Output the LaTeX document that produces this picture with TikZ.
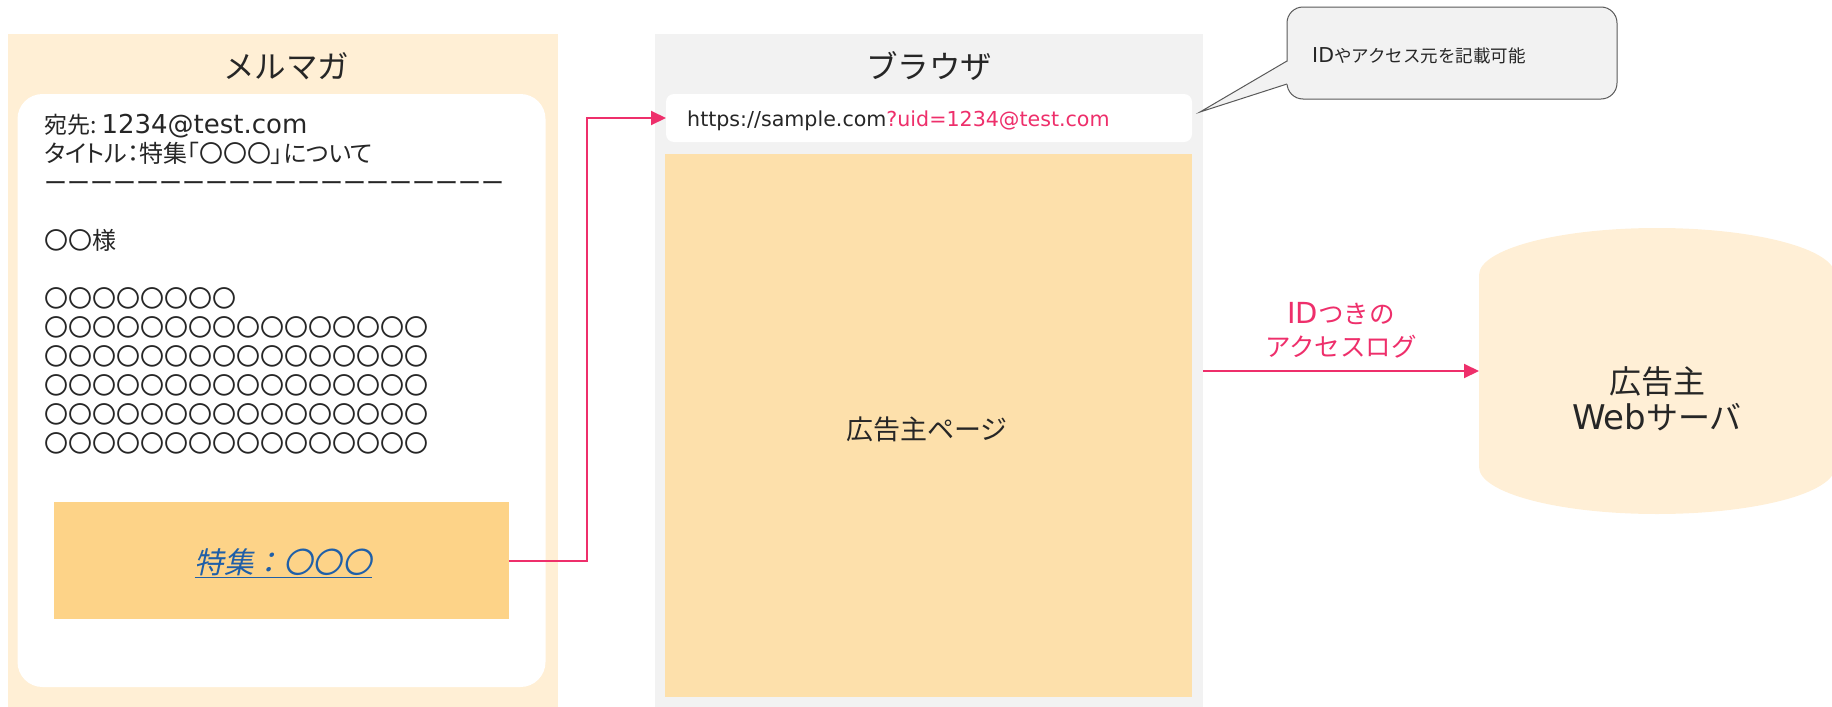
\documentclass[tikz,border=0pt]{standalone}
\usepackage{fontspec}
\setmainfont{Noto Sans CJK JP}
\newfontfamily\jpit[FakeSlant=0.22]{Noto Sans CJK JP}
\newfontfamily\jpprop[RawFeature={+palt}]{Noto Sans CJK JP}
\newfontfamily\lat{DejaVu Sans}
\newcommand{\latin}[2]{{\lat\fontsize{#1}{#1}\selectfont #2}}
\usetikzlibrary{arrows.meta}
\definecolor{mailbg}{HTML}{FFEFD5}
\definecolor{linkbg}{HTML}{FDD388}
\definecolor{browserbg}{HTML}{F2F2F2}
\definecolor{pagebg}{HTML}{FDE0AB}
\definecolor{cylbg}{HTML}{FFEFD6}
\definecolor{accent}{HTML}{EE2F6B}
\definecolor{ink}{HTML}{262626}
\definecolor{linkblue}{HTML}{1F5FA8}
\definecolor{callborder}{HTML}{595959}
\tikzset{
  panel/.style={inner sep=0pt, outer sep=0pt, draw=none},
  bodyline/.style={anchor=base west, inner sep=0pt, text=ink, font=\fontsize{23}{29}\selectfont},
  circleline/.style={anchor=base west, inner sep=0pt, text=ink, font=\fontsize{24}{29}\selectfont},
  titletext/.style={inner sep=0pt, text=ink, font=\fontsize{31.5}{36}\selectfont},
  flow/.style={draw=accent, line width=2pt, -{Triangle[length=15pt,width=14pt]}},
}
\begin{document}
\begin{tikzpicture}[x=1pt,y=-1pt]
\useasboundingbox (0,0) rectangle (1832,707);

% ---- mail panel ----
\node[panel, fill=mailbg, minimum width=550pt, minimum height=673pt] (mail) at (283,370.5) {};
\node[titletext] (mailtitle) at (286,66) {メルマガ};
\node[panel, fill=white, rounded corners=25pt, minimum width=528pt, minimum height=593pt] (mailbody) at (281.5,390.5) {};
\node[bodyline] (l1) at (44,133) {宛先:\hspace{5pt}\latin{26}{1234@test.com}};
\node[bodyline, font=\jpprop\fontsize{24}{29}\selectfont] (l2) at (44,162) {タイトル：特集「〇〇〇」について};
\node[bodyline] (l3) at (44,191) {ーーーーーーーーーーーーーーーーーーーー};
\node[circleline] (l4) at (44,249) {〇〇様};
\node[circleline] (l5) at (44,307) {〇〇〇〇〇〇〇〇};
\node[circleline] (l6) at (44,336) {〇〇〇〇〇〇〇〇〇〇〇〇〇〇〇〇};
\node[circleline] (l7) at (44,365) {〇〇〇〇〇〇〇〇〇〇〇〇〇〇〇〇};
\node[circleline] (l8) at (44,394) {〇〇〇〇〇〇〇〇〇〇〇〇〇〇〇〇};
\node[circleline] (l9) at (44,423) {〇〇〇〇〇〇〇〇〇〇〇〇〇〇〇〇};
\node[circleline] (l10) at (44,452) {〇〇〇〇〇〇〇〇〇〇〇〇〇〇〇〇};
\node[panel, fill=linkbg, minimum width=455pt, minimum height=117pt] (link) at (281.5,560.5) {};
\node[inner sep=0pt, text=linkblue, font=\jpit\fontsize{29.5}{29.5}\selectfont] (linktext) at (283,563) {\underline{特集：〇〇〇}};

% ---- browser panel ----
\node[panel, fill=browserbg, minimum width=548pt, minimum height=673pt] (browser) at (929,370.5) {};
\node[titletext] (browsertitle) at (929,66) {ブラウザ};
\node[panel, fill=white, rounded corners=8pt, minimum width=526pt, minimum height=48pt] (url) at (929,118) {};
\node[anchor=base west, inner sep=0pt, text=ink, font=\lat\fontsize{20.6}{24}\selectfont] (urltext) at (687,126) {https://sample.com\textcolor{accent}{?uid=1234@test.com}};
\node[panel, fill=pagebg, minimum width=527pt, minimum height=543pt] (page) at (928.5,425.5) {};
\node[inner sep=0pt, text=ink, font=\fontsize{27}{30}\selectfont] (pagetext) at (927,429) {広告主ページ};

% ---- callout ----
\node[draw=callborder, line width=1pt, fill=browserbg, rounded corners=16pt, minimum width=330pt, minimum height=92pt, outer sep=0pt] (callout) at (1452,53) {};
\coordinate (tip) at (1200,112);
\fill[browserbg] (1288.5,61) -- (tip) -- (1288.5,84) -- cycle;
\draw[callborder, line width=1pt, line join=miter] (callout.west |- 0,61) -- (tip) -- (callout.west |- 0,84);
\node[anchor=base west, inner sep=0pt, text=ink, font=\fontsize{17.5}{20}\selectfont] (callouttext) at (1312,62) {\latin{20.5}{ID}やアクセス元を記載可能};

% ---- server cylinder ----
\fill[cylbg] (1479,275) -- (1479,467) arc[start angle=180, end angle=0, x radius=178, y radius=47]
  -- (1835,275) arc[start angle=0, end angle=-180, x radius=178, y radius=47] -- cycle;
\node[panel, minimum width=356pt, minimum height=286pt] (server) at (1657,371) {};
\node[inner sep=0pt, text=ink, align=center, font=\fontsize{32}{36}\selectfont] (servertext) at (1657,399) {広告主\\\latin{34}{Web}サーバ};

% ---- connectors ----
\coordinate (bend) at (587,118);
\draw[flow] (link.east) -- (link.east -| bend) -- (bend) -- (url.west);
\draw[flow] (browser.east |- server.west) -- (server.west);
\node[inner sep=0pt, text=accent, align=center, font=\fontsize{25.5}{33}\selectfont] (flowlabel) at (1341,330) {\latin{29}{ID}つきの\\アクセスログ};
\end{tikzpicture}
\end{document}
